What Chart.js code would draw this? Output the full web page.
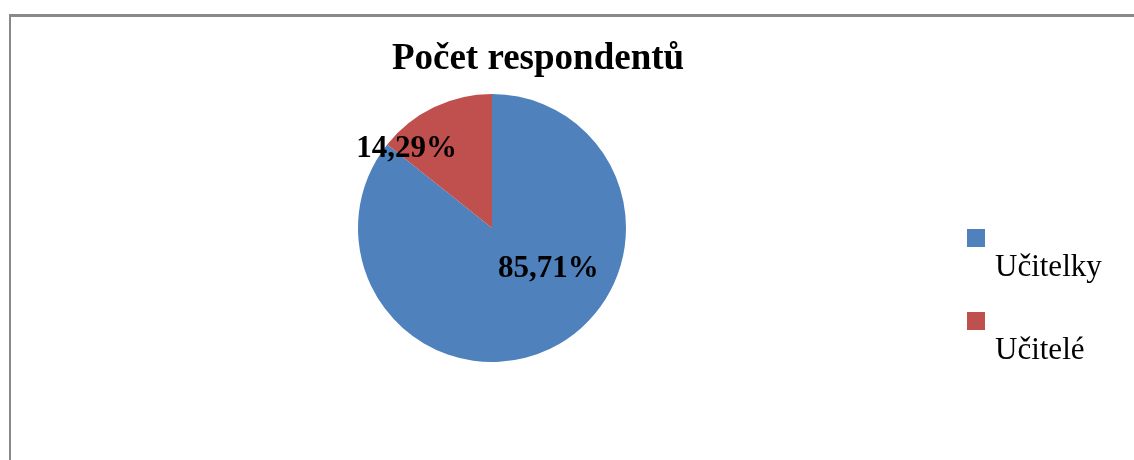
<!DOCTYPE html>
<html lang="cs">

<head>
    <meta charset="UTF-8" />
    <title>Počet respondentů</title>
    <style>
        body { margin: 0; background: #fff; }
        #wrap { position: relative; width: 1134px; height: 460px; overflow: hidden; }
        #frame {
            position: absolute; left: 9px; top: 14px; right: 0; bottom: -10px;
            border-top: 3px solid #898989; border-left: 2px solid #898989;
            pointer-events: none;
        }
    </style>
</head>

<body>
    <div id="wrap">
        <canvas id="myChart" width="1134" height="460"></canvas>
        <div id="frame"></div>
    </div>

    <script src="https://cdn.jsdelivr.net/npm/chart.js"></script>
    <script>
        // data
        const labels = ['Učitelky', 'Učitelé'];
        const values = [85.71, 14.29];
        const colors = ['#4F81BD', '#C0504D'];
        const title = 'Počet respondentů';

        const serif = "'Liberation Serif', 'Times New Roman', serif";

        // title, value labels and legend drawn on top of the pie
        const extras = {
            id: 'extras',
            afterDraw(chart, args, opts) {
                const ctx = chart.ctx;
                ctx.save();
                ctx.fillStyle = '#000';

                // title
                ctx.font = 'bold 37px ' + serif;
                ctx.textAlign = 'center';
                ctx.textBaseline = 'alphabetic';
                ctx.fillText(opts.title, opts.titleX, opts.titleY);

                // percent labels
                const meta = chart.getDatasetMeta(0);
                const ds = chart.data.datasets[0].data;
                ctx.font = 'bold 31px ' + serif;
                ctx.textBaseline = 'middle';
                meta.data.forEach((arc, i) => {
                    const p = opts.labelPos[i];
                    const a = p.angle * Math.PI / 180;
                    const x = arc.x + Math.sin(a) * arc.outerRadius * p.r;
                    const y = arc.y - Math.cos(a) * arc.outerRadius * p.r;
                    const txt = ds[i].toFixed(2).replace('.', ',') + '%';
                    ctx.fillText(txt, x, y);
                });

                // legend: box on one line, label wrapped below
                const lg = opts.legend;
                ctx.font = '31px ' + serif;
                ctx.textAlign = 'left';
                ctx.textBaseline = 'alphabetic';
                chart.data.labels.forEach((lab, i) => {
                    const top = lg.top + i * lg.step;
                    ctx.fillStyle = chart.data.datasets[0].backgroundColor[i];
                    ctx.fillRect(lg.x, top, lg.box, lg.box);
                    ctx.fillStyle = '#000';
                    ctx.fillText(lab, lg.textX, top + lg.textDy);
                });
                ctx.restore();
            }
        };

        const config = {
            type: 'pie',
            data: {
                labels: labels,
                datasets: [{
                    data: values,
                    backgroundColor: colors,
                    borderWidth: 0
                }]
            },
            options: {
                responsive: false,
                animation: false,
                layout: { padding: { left: 20, right: 170, top: 94, bottom: 98 } },
                plugins: {
                    legend: { display: false },
                    title: { display: false },
                    tooltip: { enabled: false },
                    extras: {
                        title: title,
                        titleX: 538,
                        titleY: 69,
                        labelPos: [{ angle: 126, r: 0.52 }, { angle: 313, r: 0.87 }],
                        legend: { x: 967, top: 229, step: 83, box: 18, textX: 995, textDy: 47 }
                    }
                }
            },
            plugins: [extras]
        };

        const myChart = new Chart(document.getElementById('myChart'), config);
    </script>
</body>

</html>
